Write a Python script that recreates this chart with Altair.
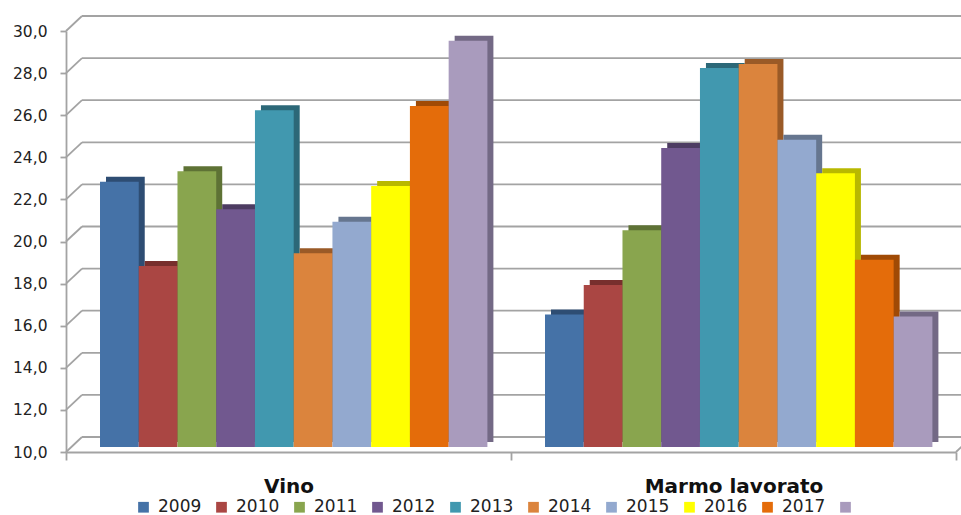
import altair as alt
import pandas as pd

# --- data -------------------------------------------------------------
categorie = ["Vino", "Marmo lavorato"]
anni = ["2009", "2010", "2011", "2012", "2013", "2014", "2015", "2016", "2017", "2018"]
vino = [22.6, 18.6, 23.1, 21.3, 26.0, 19.2, 20.7, 22.4, 26.2, 29.3]
marmo = [16.3, 17.7, 20.3, 24.2, 28.0, 28.2, 24.6, 23.0, 18.9, 16.2]
colori = ["#4572A7", "#AA4643", "#89A54E", "#71588F", "#4198AF",
          "#DB843D", "#93A9CF", "#FFFF00", "#E46C0A", "#A99BBD"]
ombre = ["#2E4D73", "#772F2D", "#5E7235", "#4D3C62", "#2C6878",
         "#9A5A27", "#66768F", "#B8B800", "#A04A05", "#736985"]
tacche = [10, 12, 14, 16, 18, 20, 22, 24, 26, 28, 30]

righe = []
for cat, valori in zip(categorie, [vino, marmo]):
    for anno, v, ombra in zip(anni, valori, ombre):
        righe.append({"categoria": cat, "anno": anno, "valore": v, "ombra": ombra})
df = pd.DataFrame(righe)
griglia = pd.DataFrame({"v": tacche})
pavimento = pd.DataFrame({"v": [10]})

# --- layout -----------------------------------------------------------
W, H = 890, 421
GRIGIO = "#a3a3a3"
DEPTH_X, DEPTH_Y = 16, -15      # back wall offset
FONT = "DejaVu Sans"

y_scale = alt.Scale(domain=[10, 30], zero=False, nice=False)
y_axis = alt.Axis(
    values=tacche, title=None, grid=False,
    labelExpr="replace(format(datum.value, '.1f'), '.', ',')",
    labelFont=FONT, labelFontSize=15.5, labelColor="#222222", labelPadding=13,
    tickSize=6, tickColor=GRIGIO, tickWidth=1.8,
    domainColor=GRIGIO, domainWidth=1.8,
)
x_axis = alt.Axis(
    title=None, labelAngle=0, tickBand="extent", tickSize=8,
    tickColor=GRIGIO, tickWidth=1.8, domainColor=GRIGIO, domainWidth=1.8,
    labelFont=FONT, labelFontSize=20, labelFontWeight="bold", labelColor="#111111",
    labelPadding=16, labelLimit=0,
)
x_enc = alt.X("categoria:N", sort=categorie,
              scale=alt.Scale(paddingInner=0, paddingOuter=0), axis=x_axis)

# back wall gridlines
linee = alt.Chart(griglia).mark_rule(
    color=GRIGIO, strokeWidth=1.8, yOffset=DEPTH_Y
).encode(
    y=alt.Y("v:Q", scale=y_scale, axis=y_axis),
    x=alt.value(DEPTH_X), x2=alt.value(W + 20),
)

# side-wall diagonals joining the front axis to the back wall
diagonali = alt.Chart(griglia).mark_rule(
    color=GRIGIO, strokeWidth=1.8, y2Offset=DEPTH_Y
).encode(
    y=alt.Y("v:Q", scale=y_scale, axis=y_axis), y2="v:Q",
    x=alt.value(0), x2=alt.value(DEPTH_X),
)

# right corner of the floor
angolo = alt.Chart(pavimento).mark_rule(
    color=GRIGIO, strokeWidth=1.8, y2Offset=DEPTH_Y
).encode(
    y=alt.Y("v:Q", scale=y_scale, axis=y_axis), y2="v:Q",
    x=alt.value(W), x2=alt.value(W + DEPTH_X),
)

# darker block behind each bar: top and side faces
facce = alt.Chart(df).mark_bar(yOffset=-10, y2Offset=-10).encode(
    x=x_enc,
    xOffset=alt.XOffset("anno:N", sort=anni,
                        scale=alt.Scale(range=[40, 427.4], paddingInner=0, paddingOuter=0)),
    y=alt.Y("valore:Q", scale=y_scale, axis=y_axis),
    y2=alt.datum(10),
    fill=alt.Fill("ombra:N", scale=None, legend=None),
)

# front faces
barre = alt.Chart(df).mark_bar(yOffset=-5, y2Offset=-5).encode(
    x=x_enc,
    xOffset=alt.XOffset("anno:N", sort=anni,
                        scale=alt.Scale(range=[34, 421.4], paddingInner=0, paddingOuter=0)),
    y=alt.Y("valore:Q", scale=y_scale, axis=y_axis),
    y2=alt.datum(10),
    color=alt.Color(
        "anno:N", sort=anni,
        scale=alt.Scale(domain=anni, range=colori),
        legend=alt.Legend(
            title=None, orient="none", legendX=69, legendY=467.5,
            direction="horizontal", columns=10, columnPadding=11,
            symbolType="square", symbolSize=115, symbolStrokeWidth=0,
            labelFont=FONT, labelFontSize=17, labelColor="#222222", labelOffset=6,
            labelExpr="datum.label == '2018' ? '' : datum.label",
            padding=0,
        ),
    ),
)

chart = (
    alt.layer(linee, diagonali, angolo, facce, barre)
    .resolve_scale(xOffset="independent")
    .properties(
        width=W, height=H,
        padding={"left": 66, "top": 31, "right": 5, "bottom": 63},
        autosize=alt.AutoSizeParams(type="none"),
        background="white",
    )
    .configure_view(stroke=None)
)

chart.save("out.html", embed_options={"renderer": "svg", "actions": False})
